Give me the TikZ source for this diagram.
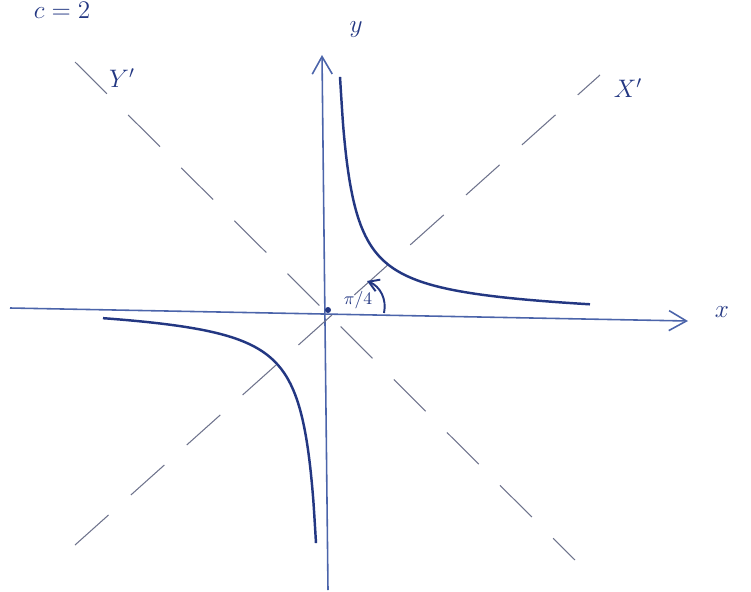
\documentclass[tikz,border=0pt]{standalone}
\usetikzlibrary{arrows.meta}
\definecolor{ink}{RGB}{35,55,130}
\definecolor{axisink}{RGB}{75,100,170}
\definecolor{dashink}{RGB}{110,115,140}
\tikzset{
  axis/.style={axisink, line width=0.9pt, -{Straight Barb[length=3.5mm,width=4mm]}},
  asym/.style={dashink, line width=0.6pt, dash pattern=on 9mm off 6mm},
  branch/.style={ink, line width=1.4pt},
  lbl/.style={ink, font=\Large},
}
\begin{document}
\begin{tikzpicture}[x=0.02cm, y=-0.02cm]
  \useasboundingbox (0,0) rectangle (751,592);
  % axes
  \coordinate (O) at (328,310);
  \coordinate (xl) at (10,308);
  \coordinate (xr) at (688,321);
  \coordinate (yb) at (328,590);
  \coordinate (yt) at (322,55);
  \draw[axis] (xl) -- (xr);
  \draw[axis] (yb) -- (yt);
  \node[lbl] (xlab) at (722,312) {$x$};
  \node[lbl] (ylab) at (356,30) {$y$};
  % rotated axes
  \coordinate (Xa) at (75,545);
  \coordinate (Xb) at (600,75);
  \coordinate (Ya) at (75,62);
  \coordinate (Yb) at (575,560);
  \draw[asym] (Xa) -- (Xb);
  \draw[asym] (Ya) -- (Yb);
  \node[lbl] (Xlab) at (628,88) {$X'$};
  \node[lbl] (Ylab) at (122,78) {$Y'$};
  % the two branches, hugging the (slightly tilted) x axis
  \draw[branch] plot[domain=12:262, samples=80, smooth]
    ({328+\x}, {310+0.019*\x-2800/\x});
  \draw[branch] plot[domain=-225:-12, samples=80, smooth]
    ({328+\x}, {310+0.019*\x-2800/\x});
  \fill[ink] (O) circle[radius=3];
  % angle
  \coordinate (a1) at (384,313);
  \coordinate (a2) at (367,281);
  \draw[ink, line width=1.1pt, -{Straight Barb[length=2mm,width=2.5mm]}] (a1) to[bend right=40] (a2);
  \node[ink] (ang) at (358,300) {$\pi/4$};
  \node[lbl] (c) at (62,10) {$c = 2$};
\end{tikzpicture}
\end{document}
